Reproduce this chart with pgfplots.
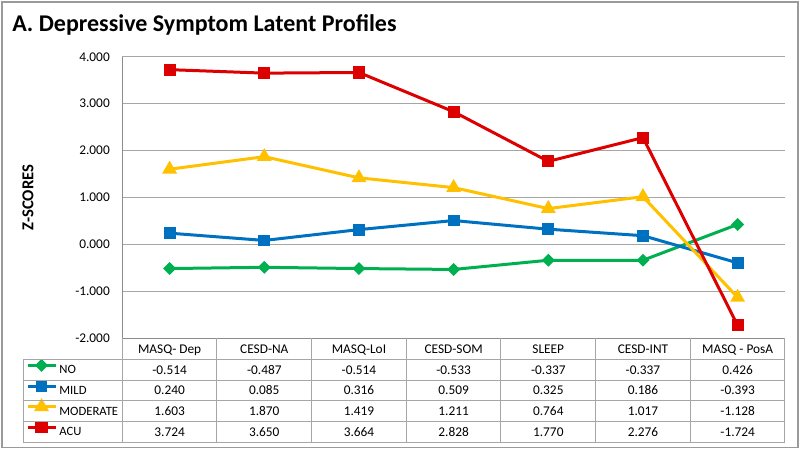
\documentclass[border=0pt]{standalone}
\usepackage{pgfplots}
\pgfplotsset{compat=1.18}
\usepackage{pgfplotstable}
\usepackage{fontspec}
\setmainfont{Carlito}

\definecolor{nogreen}{HTML}{00B050}
\definecolor{mildblue}{HTML}{0070C0}
\definecolor{modyellow}{HTML}{FFC000}
\definecolor{acured}{HTML}{DC0000}
\definecolor{gridgray}{HTML}{A6A6A6}
\definecolor{axisgray}{HTML}{8C8C8C}
\definecolor{framegray}{HTML}{9A9A9A}

% z-scores of the four latent profiles
\pgfplotstableread{
x no mild moderate acu
0 -0.514 0.240 1.603 3.724
1 -0.487 0.085 1.870 3.650
2 -0.514 0.316 1.419 3.664
3 -0.533 0.509 1.211 2.828
4 -0.337 0.325 0.764 1.770
5 -0.337 0.186 1.017 2.276
6 0.426 -0.393 -1.128 -1.724
}\profiles

\begin{document}
\begin{tikzpicture}
% pixel grid of the 800x450 reference, origin at the plot's lower left corner
\begin{scope}[x=0.75pt, y=-0.75pt, shift={(-91.725pt,253.725pt)}]
\path[use as bounding box] (0,0) rectangle (800,450);
\end{scope}

\begin{axis}[
    scale only axis,
    width=497pt, height=211.2pt,
    xmin=-0.5, xmax=6.5,
    ymin=-2, ymax=4,
    ytick={-2,-1,0,1,2,3,4},
    xtick=\empty,
    major tick length=0pt,
    axis lines*=left,
    axis line style={draw=axisgray, line width=0.75pt},
    ymajorgrids=true,
    grid style={draw=gridgray, line width=0.75pt},
    /pgf/number format/fixed,
    /pgf/number format/fixed zerofill,
    /pgf/number format/precision=3,
    /pgf/number format/assume math mode=true,
    yticklabel style={font=\fontsize{10}{12}\selectfont, anchor=east,
        inner sep=0pt, xshift=-9.2pt, text height=6.5pt, text depth=0pt},
    clip=false,
    legend image code/.code={
        \draw[mark repeat=2, mark phase=2, #1, yshift=3.2pt]
            plot coordinates {(0pt,0pt) (10.5pt,0pt) (21pt,0pt)};},
    legend style={at={(axis description cs:-0.1453,-0.07457)}, anchor=north west,
        draw=none, fill=none, inner sep=0pt, outer sep=0pt,
        row sep=0pt, column sep=1.8pt,
        nodes={inner sep=0pt, text height=11pt, text depth=4.5pt,
            font=\fontsize{9.5}{12}\selectfont}},
    legend cell align=left,
]
\addplot[color=nogreen, line width=2.25pt, mark=square*, mark size=2.3pt,
    mark options={rotate=45}] table[x=x, y=no] {\profiles};
\addplot[color=mildblue, line width=2.25pt, mark=square*, mark size=3.3pt]
    table[x=x, y=mild] {\profiles};
\addplot[color=modyellow, line width=2.25pt, mark=triangle*, mark size=4.2pt]
    table[x=x, y=moderate] {\profiles};
\addplot[color=acured, line width=2.25pt, mark=square*, mark size=3.4pt]
    table[x=x, y=acu] {\profiles};
\legend{NO, MILD, MODERATE, ACU}
\end{axis}

\begin{scope}[x=0.75pt, y=-0.75pt, shift={(-91.725pt,253.725pt)},
    every node/.style={font=\fontsize{10}{12}\selectfont, inner sep=0pt,
        text height=6.5pt, text depth=0pt}]
% outer frame of the chart
\draw[framegray, line width=1.1pt] (2,2) rectangle (798,447.5);
% title and axis label
\node[anchor=base west, font=\fontsize{18}{22}\selectfont\bfseries,
    text height=, text depth=] at (12,32) {A. Depressive Symptom Latent Profiles};
\node[anchor=base, rotate=90, font=\fontsize{12.5}{15}\selectfont\bfseries,
    text height=, text depth=] at (33.5,197.5) {Z-SCORES};
% data table under the plot
\foreach \k in {0,...,7}
    \draw[gridgray, line width=0.75pt] ({122.3+\k*94.67},338.3) -- ({122.3+\k*94.67},442);
\foreach \yy in {359.3,380,400.7,421.3,442}
    \draw[gridgray, line width=0.75pt] (23.3,\yy) -- (785,\yy);
\draw[gridgray, line width=0.75pt] (23.3,359.3) -- (23.3,442);
\foreach \lab [count=\i from 0] in {MASQ- Dep, CESD-NA, MASQ-LoI, CESD-SOM, SLEEP, CESD-INT, MASQ - PosA}
    \node at ({122.3+(\i+0.5)*94.67},348.8) {\lab};
\foreach \col in {0,...,6} {
    \foreach \ser [count=\r from 0] in {no,mild,moderate,acu} {
        \pgfplotstablegetelem{\col}{\ser}\of\profiles
        \node at ({122.3+(\col+0.5)*94.67},{369.7+\r*20.67}) {\pgfplotsretval};
    }
}
\end{scope}
\end{tikzpicture}
\end{document}
